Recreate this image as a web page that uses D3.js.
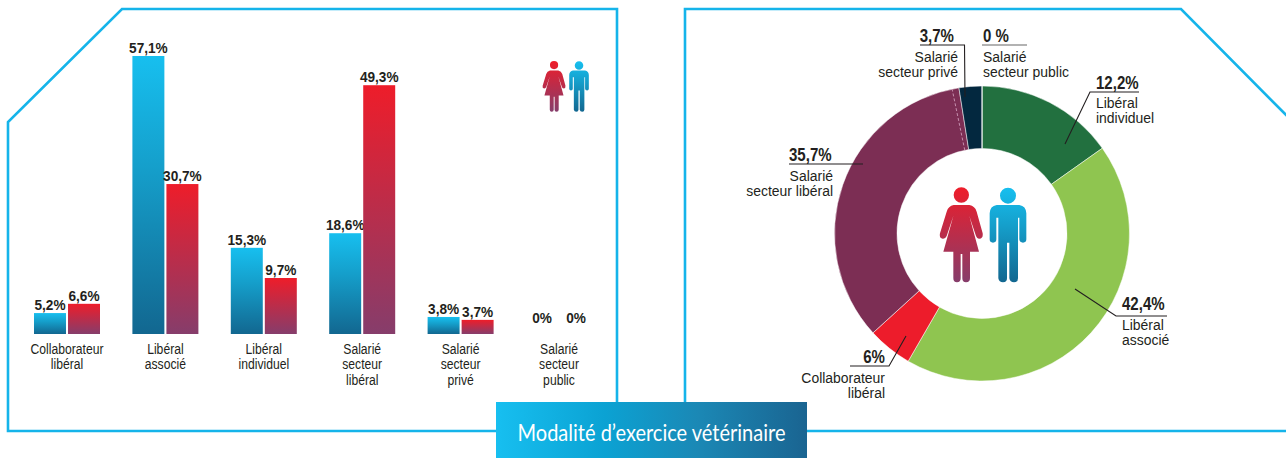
<!DOCTYPE html>
<html><head><meta charset="utf-8">
<script src="https://cdn.jsdelivr.net/npm/d3@7/dist/d3.min.js"></script>
<style>
html,body{margin:0;padding:0;background:#fff;overflow:hidden}
svg{display:block}
text{font-family:"Liberation Sans",sans-serif;fill:#231f20}
.v{font-weight:700;font-size:15.5px}
.t{font-size:15.5px}
.dv{font-weight:700;font-size:17.5px}
.dt{font-size:15px}
</style></head><body>
<svg id="c" width="1286" height="458"></svg>
<script>
// ---- data ----
const categories = [["Collaborateur","libéral"],["Libéral","associé"],["Libéral","individuel"],["Salarié","secteur","libéral"],["Salarié","secteur","privé"],["Salarié","secteur","public"]];
const groupIds = ["Collaborateur libéral","Libéral associé","Libéral individuel","Salarié secteur libéral","Salarié secteur privé","Salarié secteur public"];
const menLabels = ["5,2%","57,1%","15,3%","18,6%","3,8%","0%"];
const womenLabels = ["6,6%","30,7%","9,7%","49,3%","3,7%","0%"];
// bar lengths as drawn (in %)
const menDrawn = [4.3,57.1,17.7,20.7,3.5,0];
const womenDrawn = [6.2,30.8,11.5,51.1,2.9,0];
const donutNames = [["Libéral","individuel"],["Libéral","associé"],["Collaborateur","libéral"],["Salarié","secteur libéral"],["Salarié","secteur privé"],["Salarié","secteur public"]];
const donutLabels = ["12,2%","42,4%","6%","35,7%","3,7%","0 %"];
// arc shares as drawn (in %)
const donutDrawn = [15.2,43.2,4.9,34.3,2.5,0];
const donutColors = ["#22703f","#8fc550","#ed1c2b","#7c2e54","#03283f","#03283f"];
const dashedShare = 0.75;
const title = "Modalité d’exercice vétérinaire";

const sxT = 0.785, sxV = 0.88, sxDT = 0.93, sxDV = 0.86;
const svg = d3.select("#c");
const defs = svg.append("defs");
function grad(id,stops,horizontal){
  const g = defs.append("linearGradient").attr("id",id).attr("x1",0).attr("y1",0)
    .attr("x2",horizontal?1:0).attr("y2",horizontal?0:1);
  stops.forEach(([o,c])=>g.append("stop").attr("offset",o).attr("stop-color",c));
}
grad("gm",[[0,"#17bfef"],[0.4,"#159fcb"],[1,"#126790"]]);
grad("gw",[[0,"#ee1d2a"],[1,"#863d6b"]]);
grad("gb",[[0,"#17bff0"],[0.35,"#0ba2d3"],[0.65,"#1b88b5"],[1,"#1a6491"]],true);
function put(parent,cls,anchor,px,py,sx,str){
  return parent.append("text").attr("class",cls).attr("text-anchor",anchor)
    .attr("transform",`translate(${px},${py}) scale(${sx},1)`).text(str);
}

// ---- frames ----
const frame = d3.line();
const frameG = svg.append("g").attr("fill","none").attr("stroke","#15b4ea").attr("stroke-width",2.6).attr("stroke-linejoin","miter");
frameG.append("path").attr("d",frame([[8,431],[8,122],[122,9],[617,9],[617,431]])+"Z");
frameG.append("path").attr("d",frame([[1290,431],[685,431],[685,9],[1181,9],[1290,119]]));

// ---- bars ----
const x = d3.scaleBand().domain(groupIds).range([17.8,608.2]);
const inner = d3.scaleBand().domain(["h","f"]).range([x.bandwidth()/2-33,x.bandwidth()/2+33]).paddingInner(0.06);
const y = d3.scaleLinear().domain([0,57.1]).range([334,56]);
const bars = svg.append("g");
[["h",menDrawn,menLabels,"url(#gm)"],["f",womenDrawn,womenLabels,"url(#gw)"]].forEach(([k,vals,labs,fill])=>{
  groupIds.forEach((id,i)=>{
    const v = vals[i], bx = x(id)+inner(k), w = inner.bandwidth();
    if(v>0) bars.append("rect").attr("x",bx).attr("y",y(v)).attr("width",w).attr("height",y(0)-y(v)).attr("fill",fill);
    put(bars,"v","middle",bx+w/2,v>0?y(v)-3:y(0)-11,sxV,labs[i]);
  });
});
const ax = svg.append("g").attr("transform","translate(0,334)")
  .call(d3.axisBottom(x).tickSize(0).tickFormat(""));
ax.select(".domain").remove();
ax.selectAll(".tick text").attr("class","t").attr("y",null).attr("dy",null).attr("font-family",null).attr("font-size",null)
  .attr("transform",`scale(${sxT},1)`)
  .each(function(d,i){
    categories[i].forEach((s,j)=>d3.select(this).append("tspan").attr("x",0).attr("y",20+j*15.4).text(s));
  });

// ---- donut ----
const cx=982, cy=233.5, R=147.5, r0=85;
const pie = d3.pie().sort(null).value(d=>d)(donutDrawn);
const arc = d3.arc().innerRadius(r0).outerRadius(R);
const dg = svg.append("g").attr("transform",`translate(${cx},${cy})`);
dg.selectAll("path").data(pie).join("path").attr("d",arc)
  .attr("fill",(d,i)=>donutColors[i]).attr("stroke","#fff").attr("stroke-width",0.5);
const dashA = pie[3].endAngle - dashedShare/100*2*Math.PI;
dg.append("line").attr("x1",Math.sin(dashA)*r0).attr("y1",-Math.cos(dashA)*r0)
  .attr("x2",Math.sin(dashA)*R).attr("y2",-Math.cos(dashA)*R)
  .attr("stroke","#c58fae").attr("stroke-width",1).attr("stroke-dasharray","3 2");

// ---- donut annotations: layout ----
const annLayout = [
 {anchor:"start",xv:1096,yv:89,xn:1096,yn:108,line:[[1139,92],[1090,92],[1065,144]]},
 {anchor:"start",xv:1122,yv:310,xn:1122,yn:330,line:[[1167,316],[1116,316],[1075,289]]},
 {anchor:"end",xv:885,yv:363,xn:885,yn:383,line:[[850,366],[889,366],[906,336]]},
 {anchor:"end",xv:833,yv:161,xn:833,yn:181,xvStart:789,line:[[789,164],[863,164]]},
 {anchor:"end",xv:954,yv:42,xn:958,yn:62,line:[[920,45],[964.5,45],[965,97]]},
 {anchor:"start",xv:983,yv:42,xn:983,yn:62,line:[[982,45],[1027,45]]}
];
const ann = svg.append("g");
annLayout.forEach((a,i)=>{
  ann.append("path").attr("d",d3.line()(a.line)).attr("fill","none").attr("stroke",i===5?"#666":"#231f20").attr("stroke-width",1.1);
  put(ann,"dv",a.xvStart?"start":a.anchor,a.xvStart||a.xv,a.yv,sxDV,donutLabels[i]);
  const t = ann.append("text").attr("class","dt").attr("text-anchor",a.anchor)
    .attr("transform",`translate(${a.xn},${a.yn}) scale(${sxDT},1)`);
  donutNames[i].forEach((s,j)=>t.append("tspan").attr("x",0).attr("y",j*15.2).text(s));
});

// ---- pictograms ----
const womanD = "M71,75L118,75Q135,78 140,95L158,160Q160,175 148,176Q140,176 137,165L118,108L147,215L120,215L120,295Q120,307 108,307Q97,307 97,295L97,222L92,222L92,295Q92,307 81,307Q70,307 70,295L70,215L40,215L70,108L50,168Q46,177 38,176Q27,174 30,160L50,95Q55,78 71,75ZM71,45a23,23 0 1,0 46,0a23,23 0 1,0 -46,0Z";
const manD = "M200,75L268,75Q288,78 289,100L289,178Q289,188 279,188Q269,188 268,178L268,113L264,113L264,295Q264,307 252,307Q240,307 238,295L238,188L231,188L231,295Q231,307 219,307Q207,307 205,295L205,113L199,113L199,178Q199,188 189,188Q179,188 179,178L179,100Q180,78 200,75ZM210,47a24,24 0 1,0 48,0a24,24 0 1,0 -48,0Z";
[[930,180,1/3],[537.3,57.1,0.1783]].forEach(([tx,ty,s])=>{
  const g = svg.append("g").attr("transform",`translate(${tx},${ty}) scale(${s})`);
  g.append("path").attr("d",womanD).attr("fill","url(#gw)");
  g.append("path").attr("d",manD).attr("fill","url(#gm)");
});

// ---- title band ----
svg.append("rect").attr("x",496).attr("y",402).attr("width",311).attr("height",56).attr("fill","url(#gb)");
svg.append("text").attr("transform","translate(651.5,441) scale(0.89,1)").attr("text-anchor","middle")
  .style("font-family","Lato, sans-serif").style("font-weight",400).style("font-size","22.5px").style("fill","#fff")
  .text(title);
</script>
</body></html>
